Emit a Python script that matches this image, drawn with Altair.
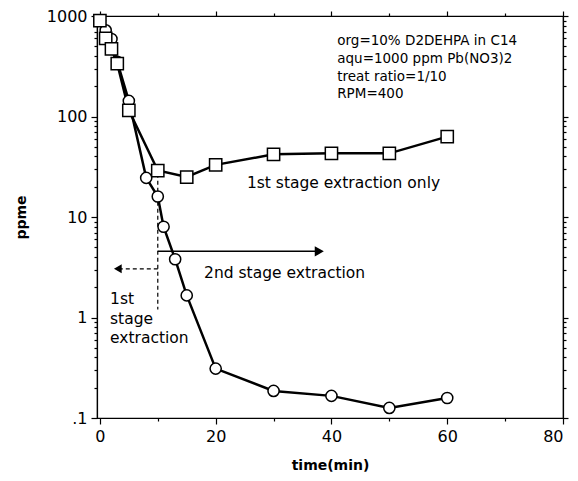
import altair as alt
import pandas as pd

# ---- data ----
sq_t = [0, 1, 2, 3, 5, 10, 15, 20, 30, 40, 50, 60]
sq_v = [900, 600, 470, 335, 115, 29, 25, 33, 42, 43, 43, 63]

ci_t = [0, 1, 2, 3, 5, 8, 10, 11, 13, 15, 20, 30, 40, 50, 60]
ci_v = [900, 720, 590, 350, 143, 24.5, 16, 8, 3.8, 1.66, 0.31, 0.186, 0.166, 0.126, 0.158]

info_lines = ["org=10% D2DEHPA in C14", "aqu=1000 ppm Pb(NO3)2", "treat ratio=1/10", "RPM=400"]
info_t = [41.0, 41.0, 41.0, 41.0]
info_v = [565, 375, 250, 166]

label_text = ["1st stage extraction only", "2nd stage extraction", "1st", "stage", "extraction"]
label_t = [25.4, 18.0, 1.75, 1.75, 1.75]
label_v = [22.0, 2.75, 1.52, 0.96, 0.622]

# arrows / guide lines (data coords)
arrow_right = dict(t=10, t2=37.9, v=4.55)
arrow_left = dict(t=10, t2=3.1, v=3.05)
vline = dict(t=10, v=27, v2=1.2)

X_DOMAIN = [-0.5, 80]
Y_DOMAIN = [0.1, 1000]
x_ticks = [0, 10, 20, 30, 40, 50, 60, 70, 80]
y_ticks = [m * d for d in [0.1, 1, 10, 100] for m in range(1, 10)] + [1000]

FONT = "DejaVu Sans"

xs = alt.Scale(domain=X_DOMAIN, nice=False, zero=False)
ys = alt.Scale(type="log", domain=Y_DOMAIN, nice=False)

dec_test = "indexof([0.1, 1, 10, 100, 1000], datum.value) >= 0"

x_axis = alt.Axis(
    title="time(min)", values=x_ticks,
    labelExpr="datum.value % 20 == 0 ? datum.label : ''",
    tickSize={"condition": {"test": "datum.value % 20 == 0", "value": 6}, "value": 3},
    labelFont=FONT, labelFontSize=16, labelPadding=4, labelOverlap=False,
    titleFont=FONT, titleFontSize=14, titleFontWeight="bold", titlePadding=14,
    grid=False,
)
y_axis = alt.Axis(
    title="ppme", values=y_ticks,
    labelExpr="datum.value == 0.1 ? '.1' : (" + dec_test + " ? format(datum.value, 'd') : '')",
    tickSize={"condition": {"test": dec_test, "value": 6}, "value": 3},
    labelFont=FONT, labelFontSize=16, labelPadding=4, labelOverlap=False,
    titleFont=FONT, titleFontSize=14, titleFontWeight="bold", titlePadding=18,
    grid=False,
)

X = alt.X("t:Q", scale=xs, axis=x_axis)
Y = alt.Y("v:Q", scale=ys, axis=y_axis)

sq = pd.DataFrame({"t": sq_t, "v": sq_v})
ci = pd.DataFrame({"t": ci_t, "v": ci_v})

line_ci = alt.Chart(ci).mark_line(color="black", strokeWidth=2.5).encode(x=X, y=Y)
line_sq = alt.Chart(sq).mark_line(color="black", strokeWidth=2.5).encode(x=X, y=Y)
pt_ci = alt.Chart(ci).mark_point(shape="circle", size=125, filled=True, fill="white",
                                 stroke="black", strokeWidth=1.5, opacity=1).encode(x=X, y=Y)
pt_sq = alt.Chart(sq).mark_point(shape="square", size=150, filled=True, fill="white",
                                 stroke="black", strokeWidth=1.5, opacity=1).encode(x=X, y=Y)

ar_df = pd.DataFrame([arrow_right])
al_df = pd.DataFrame([arrow_left])
vl_df = pd.DataFrame([vline])

rule_right = alt.Chart(ar_df).mark_rule(color="black", strokeWidth=1.5).encode(
    x=X, x2="t2:Q", y=Y)
rule_left = alt.Chart(al_df).mark_rule(color="black", strokeWidth=1.2, strokeDash=[4, 3]).encode(
    x=X, x2="t2:Q", y=Y)
rule_v = alt.Chart(vl_df).mark_rule(color="black", strokeWidth=1.2, strokeDash=[4, 3]).encode(
    x=X, y=Y, y2="v2:Q")

head_r = alt.Chart(pd.DataFrame({"t": [arrow_right["t2"]], "v": [arrow_right["v"]]})).mark_point(
    shape="triangle-right", size=110, filled=True, color="black", opacity=1).encode(x=X, y=Y)
head_l = alt.Chart(pd.DataFrame({"t": [arrow_left["t2"]], "v": [arrow_left["v"]]})).mark_point(
    shape="triangle-left", size=80, filled=True, color="black", opacity=1).encode(x=X, y=Y)

info = alt.Chart(pd.DataFrame({"t": info_t, "v": info_v, "s": info_lines})).mark_text(
    align="left", baseline="middle", font=FONT, fontSize=13.5, color="black").encode(
    x=X, y=Y, text="s:N")
labels = alt.Chart(pd.DataFrame({"t": label_t, "v": label_v, "s": label_text})).mark_text(
    align="left", baseline="middle", font=FONT, fontSize=15.5, color="black").encode(
    x=X, y=Y, text="s:N")

main = alt.layer(line_ci, line_sq, rule_v, rule_right, rule_left, head_r, head_l,
                 pt_ci, pt_sq, info, labels)

# mirrored tick marks on top and right edges
mirror = alt.Chart(sq).mark_point(opacity=0).encode(
    x=alt.X("t:Q", scale=xs, axis=alt.Axis(
        orient="top", values=x_ticks, labels=False, title=None, grid=False,
        tickSize={"condition": {"test": "datum.value % 20 == 0", "value": 5}, "value": 3})),
    y=alt.Y("v:Q", scale=ys, axis=alt.Axis(
        orient="right", values=y_ticks, labels=False, title=None, grid=False,
        tickSize={"condition": {"test": dec_test, "value": 5}, "value": 3})),
)

chart = alt.layer(main, mirror).resolve_scale(x="independent", y="independent").properties(
    width=466, height=402,
    autosize=alt.AutoSizeParams(type="none"),
    padding={"left": 89, "top": 8, "right": 7, "bottom": 60},
    background="white",
).configure_view(stroke="black", strokeWidth=1.2).configure_axis(
    domainColor="black", tickColor="black", domainWidth=1.2, tickWidth=1.2,
    labelColor="black", titleColor="black",
)

chart.save("out.html", embed_options={"renderer": "svg", "actions": False})
